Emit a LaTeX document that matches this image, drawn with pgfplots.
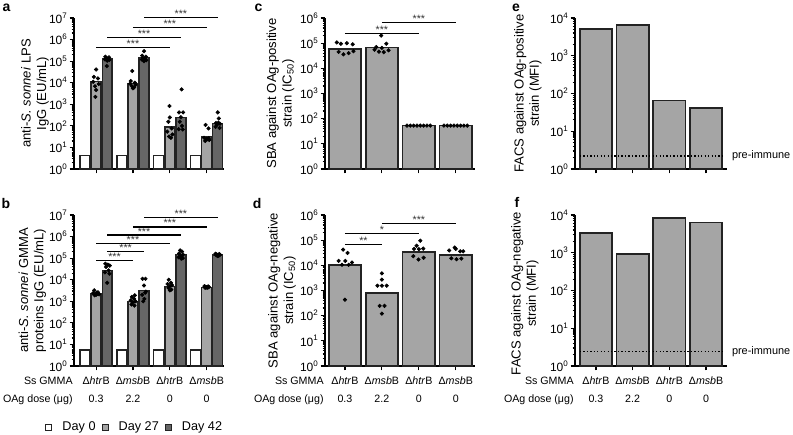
\documentclass[border=0pt]{standalone}
\usepackage{pgfplots}
\pgfplotsset{compat=1.18}
\usepackage{fontspec}
\setmainfont{Liberation Sans}
\definecolor{lg}{RGB}{165,165,165}
\definecolor{dg}{RGB}{102,102,102}
\definecolor{edge}{RGB}{35,35,35}
\pgfkeys{/pgf/number format/assume math mode=true}
\pgfplotsset{log base 10 number format code/.code={10\textsuperscript{\pgfmathprintnumber[fixed,precision=0]{#1}}}}
\pgfplotsset{
  stMinorSeven/.style={minor ytick={2,3,4,5,6,7,8,9,20,30,40,50,60,70,80,90,200,300,400,500,600,700,800,900,2000,3000,4000,5000,6000,7000,8000,9000,2e4,3e4,4e4,5e4,6e4,7e4,8e4,9e4,2e5,3e5,4e5,5e5,6e5,7e5,8e5,9e5,2e6,3e6,4e6,5e6,6e6,7e6,8e6,9e6}},
  stMinorSix/.style={minor ytick={2,3,4,5,6,7,8,9,20,30,40,50,60,70,80,90,200,300,400,500,600,700,800,900,2000,3000,4000,5000,6000,7000,8000,9000,2e4,3e4,4e4,5e4,6e4,7e4,8e4,9e4,2e5,3e5,4e5,5e5,6e5,7e5,8e5,9e5}},
  stMinorFour/.style={minor ytick={2,3,4,5,6,7,8,9,20,30,40,50,60,70,80,90,200,300,400,500,600,700,800,900,2000,3000,4000,5000,6000,7000,8000,9000}},
  stPanel/.style={
    scale only axis, width=112.5pt, height=113.25pt,
    axis x line*=bottom, axis y line*=left,
    axis line style={-, line width=1.4pt, black},
    tick align=outside,
    major tick length=3.2pt, minor tick length=1.8pt,
    tick style={black, line width=0.9pt},
    xtick={0,1,2,3}, xticklabels={},
    clip=false,
    tick label style={font=\fontsize{9}{10}\selectfont},
    yticklabel style={inner xsep=1.5pt},
    ylabel style={font=\fontsize{9.8}{11.5}\selectfont, align=center, anchor=center},
  },
  stBottom/.style={
    xticklabels={{\strut Δ\textit{htr}B\\0.3},{\strut Δ\textit{msb}B\\2.2},{\strut Δ\textit{htr}B\\0},{\strut Δ\textit{msb}B\\0}},
    xticklabel style={align=center, font=\fontsize{8}{13.5}\selectfont, inner ysep=1pt},
    extra x ticks={#1},
    extra x tick labels={{\strut Ss GMMA\\OAg dose (μg)}},
    extra x tick style={tick style={draw=none}, xticklabel style={anchor=north east, align=right, xshift=2.5pt}},
  },
  stBarA/.style={ybar, bar width=0.27, bar shift=0pt, draw=edge, line width=1pt},
  stBarC/.style={ybar, bar width=0.88, bar shift=0pt, draw=edge, line width=1.3pt, fill=lg},
  stDots/.style={only marks, mark=*, mark size=1.35pt, black},
  stSig/.style={black, line width=0.9pt},
}
\newcommand{\stars}[1]{node[pos=0.5, anchor=south, inner sep=0pt, yshift=-0.4pt, font=\fontsize{8}{9}\selectfont, text=black!80] {#1}}
\begin{document}
\begin{tikzpicture}
\useasboundingbox (0,0) rectangle (594.75pt,326.25pt);
% panel letters
\node[font=\fontsize{10.5}{12}\selectfont\bfseries] at (4.9pt,320.6pt) {a};
\node[font=\fontsize{10.5}{12}\selectfont\bfseries] at (4.5pt,173.3pt) {b};
\node[font=\fontsize{10.5}{12}\selectfont\bfseries] at (193.9pt,320.6pt) {c};
\node[font=\fontsize{10.5}{12}\selectfont\bfseries] at (192.8pt,173.3pt) {d};
\node[font=\fontsize{10.5}{12}\selectfont\bfseries] at (387pt,320.6pt) {e};
\node[font=\fontsize{10.5}{12}\selectfont\bfseries] at (387.8pt,174.5pt) {f};

% ---------------- panel a ----------------
\begin{axis}[stPanel, ymode=log, ymin=1, at={(55.5pt,199.5pt)}, anchor=south west,
  xmin=-0.6, xmax=3.47, ymax=1e7,
  ytick={1,10,100,1000,1e4,1e5,1e6,1e7}, stMinorSeven,
  ylabel={anti-\textit{S. sonnei} LPS\\IgG (EU/mL)},
  ylabel style={at={(axis description cs:-0.26,0.5)}}]
\addplot[stBarA, fill=white] coordinates {(-0.3,4.2) (0.7,4.2) (1.7,4.2) (2.7,4.2)};
\addplot[stBarA, fill=lg] coordinates {(0,1.1e4) (1,8.9e3) (2,87) (3,31)};
\addplot[stBarA, fill=dg] coordinates {(0.3,1.25e5) (1.3,1.5e5) (2.3,250) (3.3,130)};
\addplot[stDots] coordinates {(0,4.1e4) (-0.06,1.86e4) (0.05,1.58e4) (-0.08,1.1e4) (0.07,8.7e3) (-0.03,6.9e3) (0.0,4.6e3) (-0.02,2.2e3)
 (0.25,1.6e5) (0.35,1.5e5) (0.28,1.4e5) (0.32,1.3e5) (0.24,1.2e5) (0.36,1.15e5) (0.3,1.05e5) (0.29,5.9e4)
 (0.98,3.5e4) (0.94,1.2e4) (1.05,1.0e4) (0.92,9e3) (1.07,8e3) (0.97,7e3) (1.03,6e3) (1.0,5.5e3)
 (1.3,2.9e5) (1.25,1.8e5) (1.35,1.6e5) (1.27,1.4e5) (1.33,1.3e5) (1.24,1.2e5) (1.36,1.1e5) (1.3,1.0e5)
 (1.99,830) (2.0,245) (1.96,155) (2.05,76) (1.93,54) (2.07,40) (1.98,32) (2.03,28)
 (2.32,4.9e3) (2.25,420) (2.36,420) (2.3,250) (2.27,155) (2.24,70) (2.35,68) (2.33,100)
 (2.97,110) (3.05,76) (2.93,28) (3.0,25) (3.07,22) (2.96,20) (3.03,24) (3.06,27)
 (3.3,420) (3.33,220) (3.25,135) (3.36,125) (3.28,112) (3.24,90) (3.35,80) (3.32,140)};
\addplot[stSig] coordinates {(0,4.2e5) (2,4.2e5)} \stars{***};
\addplot[stSig] coordinates {(0.3,1.2e6) (2.3,1.2e6)} \stars{***};
\addplot[stSig] coordinates {(1,3.6e6) (3,3.6e6)} \stars{***};
\addplot[stSig] coordinates {(1.3,1.05e7) (3.3,1.05e7)} \stars{***};
\end{axis}

% ---------------- panel b ----------------
\begin{axis}[stPanel, stBottom=-0.6, ymode=log, ymin=1, at={(55.5pt,51.75pt)}, anchor=south west,
  xmin=-0.6, xmax=3.47, ymax=1e7,
  ytick={1,10,100,1000,1e4,1e5,1e6,1e7}, stMinorSeven,
  ylabel={anti-\textit{S. sonnei} GMMA\\proteins IgG (EU/mL)},
  ylabel style={at={(axis description cs:-0.277,0.5)}},
  legend style={at={(axis description cs:0.407,-0.405)}, anchor=center, draw=none, fill=none, legend columns=3, font=\fontsize{9.5}{11}\selectfont, /tikz/every even column/.append style={column sep=2.5pt}},
  legend image code/.code={\draw[#1, line width=0.7pt] (0pt,-2.25pt) rectangle (4.5pt,2.25pt); \path[draw=none, fill=none] (0pt,0pt) -- (10.5pt,0pt);}]
\addlegendimage{fill=white, draw=edge}\addlegendentry{Day 0}
\addlegendimage{fill=lg, draw=edge}\addlegendentry{Day 27}
\addlegendimage{fill=dg, draw=edge}\addlegendentry{Day 42}
\addplot[stBarA, fill=white] coordinates {(-0.3,5.5) (0.7,5.5) (1.7,5.5) (2.7,5.5)};
\addplot[stBarA, fill=lg] coordinates {(0,2.2e3) (1,1.0e3) (2,5e3) (3,4.5e3)};
\addplot[stBarA, fill=dg] coordinates {(0.3,2.7e4) (1.3,3.2e3) (2.3,1.45e5) (3.3,1.4e5)};
\addplot[stDots] coordinates {(-0.05,3.2e3) (0.05,2.6e3) (-0.08,2.4e3) (0.08,2.1e3) (0,2.0e3) (-0.04,1.9e3) (0.04,2.2e3) (0.02,2.5e3)
 (0.25,5.5e4) (0.32,5e4) (0.37,4.5e4) (0.27,3.9e4) (0.34,2.7e4) (0.24,2.2e4) (0.36,1.9e4) (0.3,7.2e3)
 (1.05,1.9e3) (0.97,1.6e3) (1.03,1.3e3) (0.94,1.1e3) (1.07,1e3) (1.0,890) (0.96,710) (1.04,630)
 (1.26,1.1e4) (1.34,1.1e4) (1.3,5.4e3) (1.35,2.8e3) (1.25,2e3) (1.31,1.3e3) (1.28,1e3) (1.33,2.5e3)
 (1.97,1e4) (2.03,7.2e3) (1.94,6.3e3) (2.06,5.6e3) (2.0,5e3) (1.96,4.2e3) (2.04,3.5e3) (2.0,3.2e3)
 (2.28,2.3e5) (2.33,2e5) (2.25,1.66e5) (2.36,1.45e5) (2.3,1.26e5) (2.24,1.1e5) (2.35,1e5) (2.31,9.5e4)
 (2.94,5e3) (2.97,4.7e3) (3.0,4.5e3) (3.03,4.3e3) (3.06,4.6e3) (2.96,4.2e3) (3.04,4.9e3) (3.0,4.4e3)
 (3.24,1.6e5) (3.27,1.5e5) (3.3,1.4e5) (3.33,1.3e5) (3.36,1.45e5) (3.26,1.35e5) (3.34,1.55e5) (3.3,1.25e5)};
\addplot[stSig] coordinates {(0,7.9e4) (1,7.9e4)} \stars{***};
\addplot[stSig] coordinates {(0.3,1.95e5) (1.3,1.95e5)} \stars{***};
\addplot[stSig] coordinates {(0,4.8e5) (2,4.8e5)} \stars{***};
\addplot[stSig] coordinates {(0.3,1.17e6) (2.3,1.17e6)} \stars{***};
\addplot[stSig] coordinates {(1,2.8e6) (3,2.8e6)} \stars{***};
\addplot[stSig] coordinates {(1.3,7.4e6) (3.3,7.4e6)} \stars{***};
\end{axis}

% ---------------- panel c ----------------
\begin{axis}[stPanel, ymode=log, ymin=1, at={(243.75pt,199.5pt)}, anchor=south west,
  xmin=-0.54, xmax=3.52, ymax=1e6,
  ytick={1,10,100,1000,1e4,1e5,1e6}, stMinorSix,
  ylabel={SBA against OAg-positive\\strain (IC\textsubscript{50})},
  ylabel style={at={(axis description cs:-0.297,0.5)}}]
\addplot[stBarC] coordinates {(0,5.9e4) (1,6.8e4) (2,53) (3,53)};
\addplot[stDots] coordinates {(-0.22,1.07e5) (-0.11,9.5e4) (0.05,1e5) (0.21,9e4) (-0.17,4.5e4) (-0.04,3.6e4) (0.1,4e4) (0.23,4.8e4)
 (0.98,2e5) (0.85,7e4) (1.12,9.5e4) (0.8,5.5e4) (0.92,4.6e4) (1.05,4.4e4) (1.18,5.2e4) (1.0,6.5e4)
 (1.68,53) (1.77,53) (1.86,53) (1.95,53) (2.04,53) (2.13,53) (2.22,53) (2.31,53)
 (2.68,53) (2.77,53) (2.86,53) (2.95,53) (3.04,53) (3.13,53) (3.22,53) (3.31,53)};
\addplot[stSig] coordinates {(0,2.5e5) (2,2.5e5)} \stars{***};
\addplot[stSig] coordinates {(1,6.8e5) (3,6.8e5)} \stars{***};
\end{axis}

% ---------------- panel d ----------------
\begin{axis}[stPanel, stBottom=-0.54, ymode=log, ymin=1, at={(243.75pt,51.75pt)}, anchor=south west,
  xmin=-0.54, xmax=3.52, ymax=1e6,
  ytick={1,10,100,1000,1e4,1e5,1e6}, stMinorSix,
  ylabel={SBA against OAg-negative\\strain (IC\textsubscript{50})},
  ylabel style={at={(axis description cs:-0.287,0.5)}}]
\addplot[stBarC] coordinates {(0,1.0e4) (1,800) (2,3.5e4) (3,2.5e4)};
\addplot[stDots] coordinates {(-0.05,4.2e4) (0.07,3.1e4) (-0.17,1.5e4) (0.01,1.5e4) (0.19,1.3e4) (-0.08,1.05e4) (0.1,1.05e4) (0.0,430)
 (1.0,4.8e3) (1.0,2.7e3) (0.88,1.55e3) (1.0,1.55e3) (1.13,1.55e3) (0.94,245) (1.07,245) (1.0,120)
 (2.04,9.5e4) (1.94,6e4) (1.87,4.5e4) (2.12,4.6e4) (2.0,4.4e4) (1.85,2.3e4) (1.99,1.7e4) (2.13,2e4)
 (2.82,3.9e4) (2.97,5.1e4) (3.12,3.6e4) (3.2,3.6e4) (2.88,1.9e4) (3.02,1.75e4) (3.15,1.85e4) (3.0,4.5e4)};
\addplot[stSig] coordinates {(0,6.6e4) (1,6.6e4)} \stars{**};
\addplot[stSig] coordinates {(0,1.78e5) (2,1.78e5)} \stars{*};
\addplot[stSig] coordinates {(1,4.7e5) (3,4.7e5)} \stars{***};
\end{axis}

% ---------------- panel e ----------------
\begin{axis}[stPanel, ymode=log, ymin=1, width=114pt, at={(431.25pt,199.5pt)}, anchor=south west,
  xmin=-0.57, xmax=3.57, ymax=1e4,
  ytick={1,10,100,1000,1e4}, stMinorFour,
  ylabel={FACS against OAg-positive\\strain (MFI)},
  ylabel style={at={(axis description cs:-0.31,0.5)}}]
\addplot[stBarC] coordinates {(0,5.2e3) (1,6.6e3) (2,65) (3,41)};
\addplot[black, line width=0.9pt, dash pattern=on 1pt off 1.6pt] coordinates {(-0.44,2.2) (3.46,2.2)}
  node[pos=1, anchor=west, xshift=3pt, font=\fontsize{8.2}{10}\selectfont] {pre-immune};
\end{axis}

% ---------------- panel f ----------------
\begin{axis}[stPanel, stBottom=-0.57, ymode=log, ymin=1, width=114pt, at={(431.25pt,51.75pt)}, anchor=south west,
  xmin=-0.57, xmax=3.57, ymax=1e4,
  ytick={1,10,100,1000,1e4}, stMinorFour,
  ylabel={FACS against OAg-negative\\strain (MFI)},
  ylabel style={at={(axis description cs:-0.33,0.48)}}]
\addplot[stBarC] coordinates {(0,3.4e3) (1,910) (2,8.2e3) (3,6.3e3)};
\addplot[black, line width=0.9pt, dash pattern=on 1pt off 1.6pt] coordinates {(-0.44,2.4) (3.46,2.4)}
  node[pos=1, anchor=west, xshift=3pt, font=\fontsize{8.2}{10}\selectfont] {pre-immune};
\end{axis}
\end{tikzpicture}
\end{document}
